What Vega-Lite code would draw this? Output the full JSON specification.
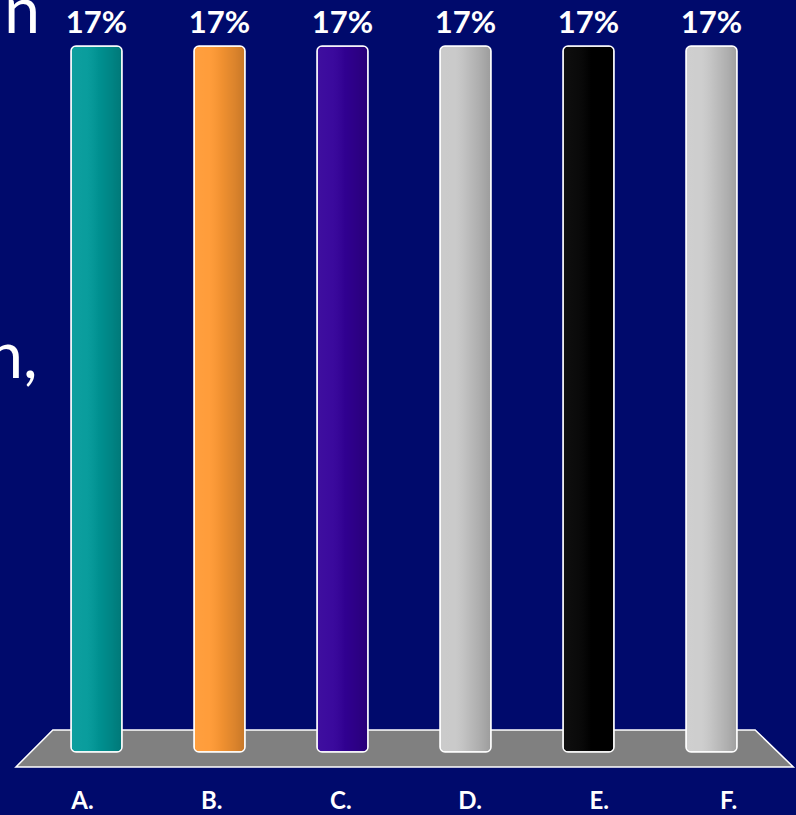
{
  "$schema": "https://vega.github.io/schema/vega-lite/v6.json",
  "autosize": {"type": "none"},
  "width": 738,
  "height": 706,
  "padding": {"left": 35, "top": 46, "right": 23, "bottom": 63},
  "background": "#000a6c",
  "config": {"view": {"stroke": null}, "font": "Lato"},
  "datasets": {
    "votes": [
      {"option": "A.", "share": 0.17},
      {"option": "B.", "share": 0.17},
      {"option": "C.", "share": 0.17},
      {"option": "D.", "share": 0.17},
      {"option": "E.", "share": 0.17},
      {"option": "F.", "share": 0.17}
    ],
    "floor": [
      {"pos": -0.155, "top": -0.0036, "bottom": -0.0036},
      {"pos": 0.145, "top": 0.0053, "bottom": -0.0036},
      {"pos": 5.855, "top": 0.0053, "bottom": -0.0036},
      {"pos": 6.165, "top": -0.0036, "bottom": -0.0036}
    ]
  },
  "resolve": {"scale": {"x": "independent"}},
  "layer": [
    {
      "layer": [
        {
          "data": {"name": "floor"},
          "mark": {"type": "area", "fill": "#808080", "stroke": "#ffffff", "strokeWidth": 1.5, "opacity": 1},
          "encoding": {
            "x": {"field": "pos", "type": "quantitative", "scale": {"domain": [0, 6], "nice": false, "zero": false}, "axis": null},
            "y": {"field": "top", "type": "quantitative", "scale": {"domain": [0, 0.17], "nice": false}, "axis": null},
            "y2": {"field": "bottom"}
          }
        },
        {
          "data": {"values": [{"fragment": "n"}]},
          "mark": {"type": "text", "align": "right", "baseline": "alphabetic", "fontSize": 64, "color": "#ffffff", "font": "Lato"},
          "encoding": {
            "x": {"datum": 0.04, "type": "quantitative"},
            "y": {"datum": 0.1731, "type": "quantitative"},
            "text": {"field": "fragment"}
          }
        },
        {
          "data": {"values": [{"fragment": "n,"}]},
          "mark": {"type": "text", "align": "right", "baseline": "alphabetic", "fontSize": 64, "color": "#ffffff", "font": "Lato"},
          "encoding": {
            "x": {"datum": 0.02, "type": "quantitative"},
            "y": {"datum": 0.0901, "type": "quantitative"},
            "text": {"field": "fragment"}
          }
        }
      ]
    },
    {
      "data": {"name": "votes"},
      "layer": [
        {
          "mark": {"type": "bar", "cornerRadius": 5},
          "encoding": {
            "x": {"field": "option", "type": "nominal", "sort": null, "scale": {"paddingInner": 0.585, "paddingOuter": 0.2925}, "axis": null},
            "y": {"field": "share", "type": "quantitative", "axis": null},
            "color": {
              "field": "option",
              "type": "nominal",
              "scale": {"domain": ["A.", "B.", "C.", "D.", "E.", "F."], "range": ["#009999", "#FF9933", "#330099", "#C8C8C8", "#000000", "#CCCCCC"]},
              "legend": null
            }
          }
        },
        {
          "mark": {
            "type": "bar",
            "cornerRadius": 5,
            "stroke": "#ffffff",
            "strokeWidth": 1.5,
            "fill": {
              "gradient": "linear",
              "x1": 0, "y1": 0, "x2": 1, "y2": 0,
              "stops": [
                {"offset": 0, "color": "rgba(255,255,255,0.06)"},
                {"offset": 0.3, "color": "rgba(255,255,255,0.04)"},
                {"offset": 0.55, "color": "rgba(0,0,0,0.06)"},
                {"offset": 0.8, "color": "rgba(0,0,0,0.14)"},
                {"offset": 1, "color": "rgba(0,0,0,0.22)"}
              ]
            }
          },
          "encoding": {
            "x": {"field": "option", "type": "nominal", "sort": null},
            "y": {"field": "share", "type": "quantitative"}
          }
        },
        {
          "mark": {"type": "text", "dy": -13, "baseline": "alphabetic", "fontSize": 31, "fontWeight": "bold", "color": "#ffffff", "font": "Lato"},
          "encoding": {
            "x": {"field": "option", "type": "nominal", "sort": null},
            "y": {"field": "share", "type": "quantitative"},
            "text": {"field": "share", "type": "quantitative", "format": ".0%"}
          }
        }
      ]
    },
    {
      "data": {"name": "votes"},
      "mark": {"type": "text", "opacity": 0},
      "encoding": {
        "x": {
          "field": "option",
          "type": "nominal",
          "sort": null,
          "scale": {"type": "point", "range": [-17.6, 757.6], "padding": 0.5},
          "axis": {
            "orient": "bottom",
            "title": null,
            "domain": false,
            "ticks": false,
            "grid": false,
            "labelAngle": 0,
            "labelPadding": 37,
            "labelFontSize": 24,
            "labelFontWeight": "bold",
            "labelColor": "#ffffff",
            "labelFont": "Lato"
          }
        },
        "text": {"field": "option"}
      }
    }
  ]
}
